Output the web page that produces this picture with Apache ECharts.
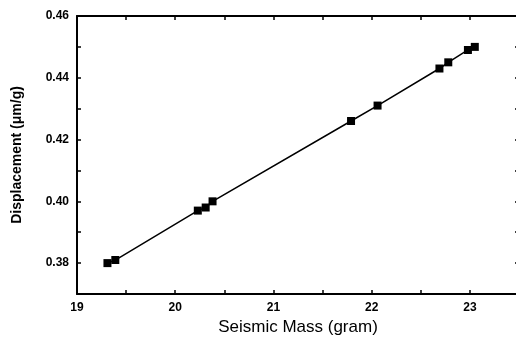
<!DOCTYPE html>
<html>
<head>
<meta charset="utf-8">
<script src="https://cdn.jsdelivr.net/npm/echarts@6/dist/echarts.min.js"></script>
<style>
  html, body { margin: 0; padding: 0; background: #fff; }
  #chart { width: 516px; height: 340px; }
</style>
</head>
<body>
<div id="chart"></div>
<script>
// seismic mass (gram) vs displacement (um/g)
const massValues = [19.31, 19.39, 20.23, 20.31, 20.38, 21.79, 22.06, 22.69, 22.78, 22.98, 23.05];
const dispValues = [0.380, 0.381, 0.397, 0.398, 0.400, 0.426, 0.431, 0.443, 0.445, 0.449, 0.450];

const font = '"Liberation Sans", Arial, sans-serif';

const myChart = echarts.init(document.getElementById('chart'), null, { renderer: 'canvas' });

const axisCommon = {
  axisLine: { show: true, onZero: false, lineStyle: { color: '#000', width: 2 } },
  axisTick: { show: true, inside: true, length: 4, lineStyle: { color: '#000', width: 1.5 } },
  splitLine: { show: false },
};

const option = {
  animation: false,
  backgroundColor: '#fff',
  // the right frame sits just past the edge of the picture
  grid: { left: 77, top: 16, right: -3, bottom: 46, containLabel: false, outerBoundsMode: 'none' },
  xAxis: [
    {
      ...axisCommon,
      type: 'value',
      min: 19,
      max: 23.5,
      interval: 0.5,
      name: 'Seismic Mass (gram)',
      nameLocation: 'middle',
      nameGap: 25,
      nameTextStyle: { fontFamily: font, fontSize: 17, color: '#000' },
      axisLabel: {
        margin: 8,
        fontFamily: font, fontSize: 12, fontWeight: 'bold', color: '#000',
        formatter: v => (Math.abs(v - Math.round(v)) < 1e-6 ? String(Math.round(v)) : ''),
      },
    },
    {
      ...axisCommon,
      type: 'value',
      position: 'top',
      min: 19,
      max: 23.5,
      interval: 0.5,
      axisLabel: { show: false },
    },
  ],
  yAxis: [
    {
      ...axisCommon,
      type: 'value',
      min: 0.37,
      max: 0.46,
      interval: 0.01,
      name: 'Displacement (\u03bcm/g)',
      nameLocation: 'middle',
      nameGap: 53,
      nameTextStyle: { fontFamily: font, fontSize: 14, fontWeight: 'bold', color: '#000' },
      axisLabel: {
        margin: 8,
        fontFamily: font, fontSize: 12, fontWeight: 'bold', color: '#000',
        formatter: v => (Math.round(v * 100) % 2 === 0 ? v.toFixed(2) : ''),
      },
    },
    {
      ...axisCommon,
      type: 'value',
      position: 'right',
      min: 0.37,
      max: 0.46,
      interval: 0.01,
      axisLabel: { show: false },
    },
  ],
  series: [
    {
      type: 'line',
      data: massValues.map((m, i) => [m, dispValues[i]]),
      symbol: 'rect',
      symbolSize: 8,
      itemStyle: { color: '#000' },
      lineStyle: { color: '#000', width: 1.5 },
    },
  ],
};

myChart.setOption(option);
</script>
</body>
</html>
